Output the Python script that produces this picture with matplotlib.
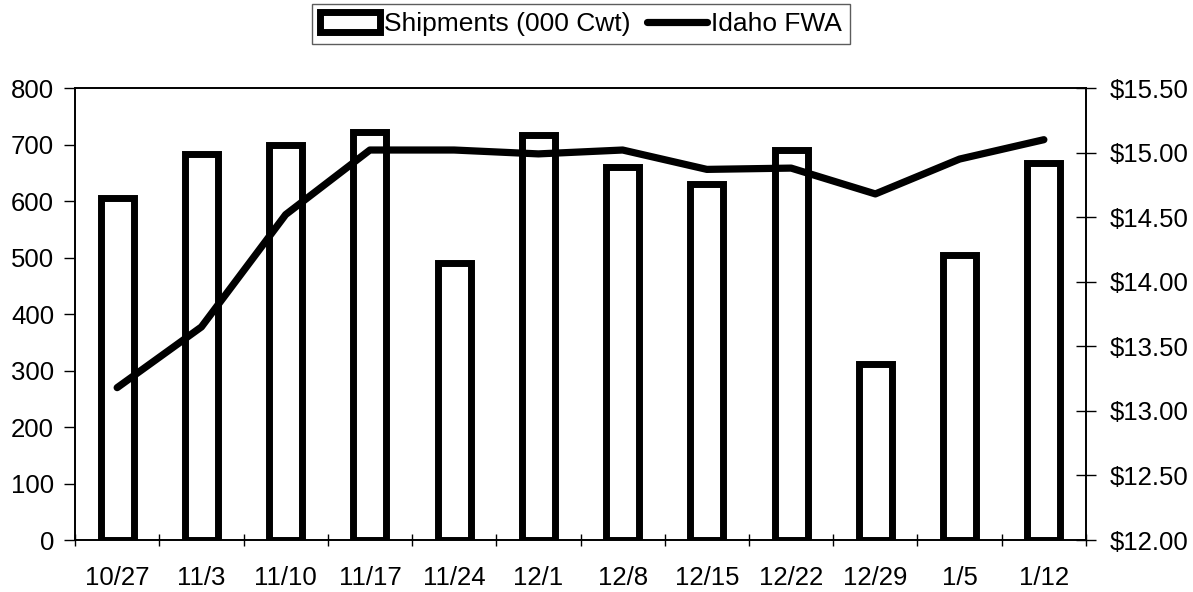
import matplotlib.pyplot as plt
import numpy as np

plt.rcParams['font.family'] = ['Liberation Sans', 'DejaVu Sans']

weeks = ["10/27", "11/3", "11/10", "11/17", "11/24", "12/1",
         "12/8", "12/15", "12/22", "12/29", "1/5", "1/12"]
shipments = [606, 683, 700, 722, 490, 716, 661, 630, 691, 312, 504, 667]
idaho_fwa = [13.18, 13.65, 14.52, 15.02, 15.02, 14.99,
             15.02, 14.87, 14.88, 14.68, 14.95, 15.10]

fig = plt.figure(figsize=(11.93, 5.92), dpi=100)
ax = fig.add_axes([0.0629, 0.0878, 0.8474, 0.7635])
ax2 = ax.twinx()

x = np.arange(len(weeks))
bars = ax.bar(x, shipments, width=0.39, facecolor="white", edgecolor="black",
              linewidth=5, label="Shipments (000 Cwt)")
line, = ax2.plot(x, idaho_fwa, color="black", linewidth=5.2,
                 solid_capstyle="round", solid_joinstyle="round",
                 label="Idaho FWA")

ax.set_xlim(-0.5, len(weeks) - 0.5)
ax.set_ylim(0, 800)
ax.set_yticks(range(0, 801, 100))
ax2.set_ylim(12.0, 15.5)
ax2.set_yticks(np.arange(12.0, 15.51, 0.5))
ax2.set_yticklabels([f"${v:.2f}" for v in np.arange(12.0, 15.51, 0.5)])

fs = 18.5
ax.set_xticks(x)
ax.set_xticklabels(weeks)
ax.set_xticks(np.arange(-0.5, len(weeks), 1.0), minor=True)
ax.tick_params(axis="x", which="major", length=0, pad=19, labelsize=fs)
ax.tick_params(axis="x", which="minor", length=9, direction="inout", width=1)
ax.tick_params(axis="y", length=8, width=1, labelsize=fs, pad=7)
ax2.tick_params(axis="y", length=15, direction="inout", width=1, labelsize=fs, pad=9.5)

for a in (ax, ax2):
    for s in a.spines.values():
        s.set_linewidth(1.2)
        s.set_color("black")

leg = fig.legend([bars, line], ["Shipments (000 Cwt)", "Idaho FWA"],
                 loc="upper center", bbox_to_anchor=(0.487, 0.993), ncol=2,
                 fontsize=19, frameon=True, fancybox=False, edgecolor="#333333",
                 handlelength=2.3, handleheight=0.75, handletextpad=0.15,
                 columnspacing=0.6, borderpad=0.3, borderaxespad=0)
leg.get_frame().set_linewidth(1)

fig.savefig("out.png", dpi=100)
